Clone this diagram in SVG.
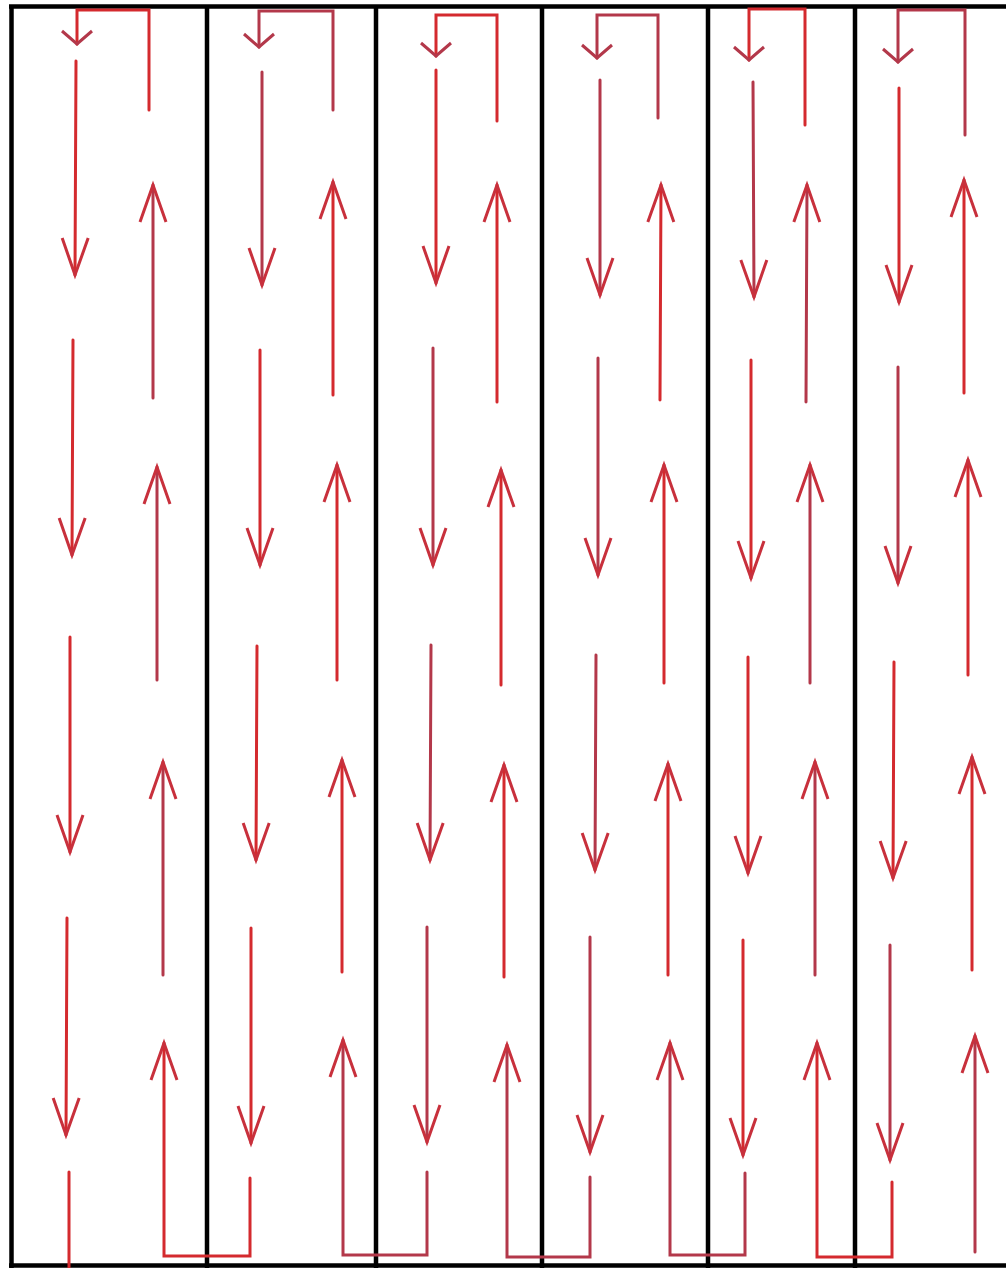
<svg xmlns="http://www.w3.org/2000/svg" width="1006" height="1268" viewBox="0 0 1006 1268">
<style>
.frame{fill:none;stroke:#000;stroke-width:4.5}
.a{fill:none;stroke:#d42a2e;stroke-width:3;stroke-linecap:round;stroke-linejoin:miter}
.b{fill:none;stroke:#b3384a;stroke-width:3;stroke-linecap:round;stroke-linejoin:miter}
.d{marker-end:url(#ah)}
.s{marker-end:url(#sh)}
</style>
<defs>
<marker id="ah" viewBox="-42 -16 46 32" refX="0" refY="0" markerWidth="46" markerHeight="32" orient="auto" markerUnits="userSpaceOnUse" overflow="visible">
<path d="M-37,-13 L0,0 L-37,13" fill="none" stroke="#c8303c" stroke-width="3" stroke-linejoin="miter"/>
</marker>
<marker id="sh" viewBox="-18 -18 22 36" refX="0" refY="0" markerWidth="22" markerHeight="36" orient="auto" markerUnits="userSpaceOnUse" overflow="visible">
<path d="M-13,-15 L0,0 L-13,15" fill="none" stroke="#b3384a" stroke-width="3" stroke-linejoin="miter"/>
</marker>
</defs>
<rect width="1006" height="1268" fill="#fff"/>
<g id="frame">
<g id="col1"><line class="frame" x1="11.5" y1="5" x2="11.5" y2="1268"/></g>
<g id="col2"><line class="frame" x1="207" y1="5" x2="207" y2="1268"/></g>
<g id="col3"><line class="frame" x1="376" y1="5" x2="376" y2="1268"/></g>
<g id="col4"><line class="frame" x1="542" y1="5" x2="542" y2="1268"/></g>
<g id="col5"><line class="frame" x1="708" y1="5" x2="708" y2="1268"/></g>
<g id="col6"><line class="frame" x1="855" y1="5" x2="855" y2="1268"/></g>
<line class="frame" x1="9" y1="6.5" x2="1006" y2="6.5"/>
<line class="frame" x1="9" y1="1265.5" x2="1006" y2="1265.5"/>
</g>
<g id="connectors">
<!-- top turns -->
<path class="a s" d="M149,110 V10 H77 V44"/>
<path class="b s" d="M333,110 V11 H259 V47"/>
<path class="a s" d="M497,121 V15 H436 V56"/>
<path class="b s" d="M658,118 V15 H597 V58"/>
<path class="a s" d="M805,125 V9 H749 V60"/>
<path class="b s" d="M965,135 V10 H898 V62"/>
<!-- column 1 -->
<line class="a d" x1="76" y1="61" x2="75" y2="275"/>
<line class="a d" x1="73" y1="340" x2="72" y2="555"/>
<line class="a d" x1="70" y1="637" x2="70" y2="852"/>
<line class="a d" x1="67" y1="918" x2="66" y2="1135"/>
<line class="a" x1="69" y1="1172" x2="69" y2="1268"/>
<line class="b d" x1="153" y1="398" x2="153" y2="185"/>
<line class="b d" x1="157" y1="680" x2="157" y2="467"/>
<line class="b d" x1="163" y1="975" x2="163" y2="762"/>
<!-- column 2 -->
<line class="b d" x1="262" y1="72" x2="262" y2="285"/>
<line class="a d" x1="260" y1="350" x2="260" y2="565"/>
<line class="a d" x1="257" y1="646" x2="256" y2="860"/>
<line class="a d" x1="251" y1="928" x2="251" y2="1143"/>
<path class="a d" d="M250,1178 V1256 H164 V1043"/>
<line class="a d" x1="333" y1="395" x2="333" y2="182"/>
<line class="a d" x1="337" y1="680" x2="337" y2="465"/>
<line class="a d" x1="342" y1="972" x2="342" y2="760"/>
<!-- column 3 -->
<line class="a d" x1="436" y1="70" x2="436" y2="283"/>
<line class="b d" x1="433" y1="348" x2="433" y2="565"/>
<line class="b d" x1="431" y1="645" x2="430" y2="860"/>
<line class="b d" x1="427" y1="927" x2="427" y2="1142"/>
<path class="b d" d="M427,1172 V1255 H343 V1040"/>
<line class="a d" x1="497" y1="402" x2="497" y2="185"/>
<line class="a d" x1="501" y1="685" x2="501" y2="470"/>
<line class="a d" x1="504" y1="977" x2="504" y2="765"/>
<!-- column 4 -->
<line class="b d" x1="600" y1="80" x2="600" y2="295"/>
<line class="b d" x1="598" y1="358" x2="598" y2="575"/>
<line class="b d" x1="596" y1="655" x2="595" y2="870"/>
<line class="b d" x1="590" y1="937" x2="590" y2="1152"/>
<path class="b d" d="M590,1177 V1257 H507 V1045"/>
<line class="a d" x1="660" y1="400" x2="661" y2="185"/>
<line class="a d" x1="664" y1="683" x2="664" y2="465"/>
<line class="a d" x1="668" y1="975" x2="668" y2="764"/>
<!-- column 5 -->
<line class="b d" x1="753" y1="82" x2="754" y2="297"/>
<line class="a d" x1="751" y1="360" x2="751" y2="578"/>
<line class="a d" x1="748" y1="657" x2="748" y2="873"/>
<line class="a d" x1="743" y1="940" x2="743" y2="1155"/>
<path class="b d" d="M745,1173 V1255 H670 V1043"/>
<line class="b d" x1="806" y1="402" x2="807" y2="185"/>
<line class="b d" x1="810" y1="683" x2="810" y2="465"/>
<line class="b d" x1="815" y1="975" x2="815" y2="762"/>
<!-- column 6 -->
<line class="a d" x1="899" y1="88" x2="899" y2="302"/>
<line class="b d" x1="898" y1="367" x2="898" y2="583"/>
<line class="a d" x1="894" y1="662" x2="893" y2="878"/>
<line class="b d" x1="890" y1="945" x2="890" y2="1160"/>
<path class="a d" d="M892,1182 V1257 H817 V1043"/>
<line class="a d" x1="964" y1="393" x2="964" y2="180"/>
<line class="a d" x1="968" y1="675" x2="968" y2="460"/>
<line class="a d" x1="972" y1="970" x2="972" y2="757"/>
<line class="b d" x1="975" y1="1252" x2="975" y2="1036"/>
</g>
</svg>
